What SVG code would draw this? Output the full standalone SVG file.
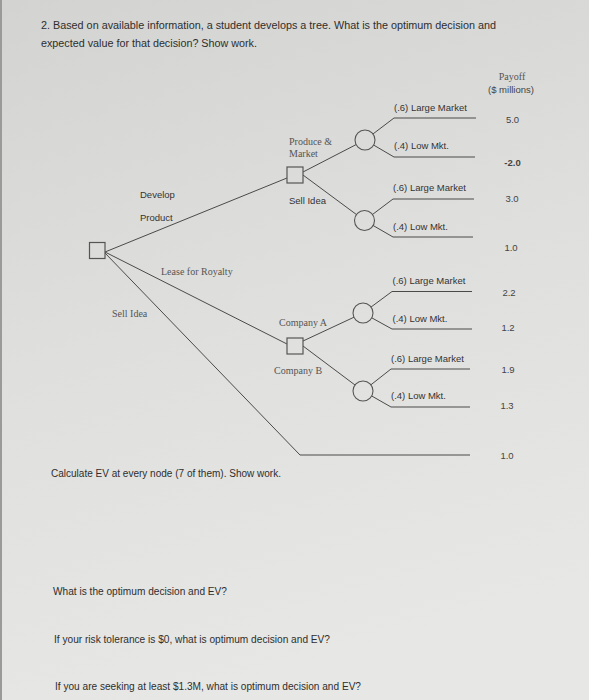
<svg xmlns="http://www.w3.org/2000/svg" width="589" height="700" viewBox="0 0 589 700">
<defs>
<linearGradient id="bg" gradientUnits="userSpaceOnUse" x1="0" y1="0" x2="200" y2="700">
<stop offset="0" stop-color="#d3d3d1"/>
<stop offset="0.5" stop-color="#dfdfdd"/>
<stop offset="1" stop-color="#e7e7e5"/>
</linearGradient>
<style>
.s{font-family:"Liberation Sans",Arial,sans-serif;fill:#333;font-size:9.5px}
.t{font-family:"Liberation Sans",Arial,sans-serif;fill:#2e2e2e;font-size:10px}
.r{font-family:"Liberation Serif","Times New Roman",serif;fill:#555;font-size:10px}
.p{font-family:"Liberation Sans",Arial,sans-serif;fill:#444;font-size:9.5px;text-anchor:middle}
.ln{stroke:#4a4a4a;stroke-width:1;fill:none}
.sq{stroke:#555;stroke-width:1.2;fill:url(#bg)}
.ci{stroke:#555;stroke-width:1.1;fill:url(#bg)}
</style>
</defs>
<rect x="0" y="0" width="589" height="700" fill="url(#bg)"/>
<rect x="0" y="0" width="2" height="700" fill="#9a9a98"/>

<g id="title">
<text class="t" x="41" y="28.5" textLength="455" lengthAdjust="spacingAndGlyphs">2. Based on available information, a student develops a tree. What is the optimum decision and</text>
<text class="t" x="41" y="46.5" textLength="216" lengthAdjust="spacingAndGlyphs">expected value for that decision? Show work.</text>
</g>

<g id="connectors">
<line class="ln" x1="105" y1="252" x2="287" y2="178"/>
<line class="ln" x1="105" y1="252" x2="287" y2="344"/>
<polyline class="ln" points="105,253 300,455 470,455"/>
<line class="ln" x1="303" y1="172" x2="365" y2="140"/>
<line class="ln" x1="303" y1="175" x2="364.5" y2="220.5"/>
<line class="ln" x1="303" y1="341" x2="363" y2="313"/>
<line class="ln" x1="303" y1="346" x2="363" y2="391"/>
<polyline class="ln" points="365,140 394,118 476,118"/>
<polyline class="ln" points="365,140 394,157 475,157"/>
<polyline class="ln" points="364.5,220.5 393,199 474,199"/>
<polyline class="ln" points="364.5,220.5 393,237 473,237"/>
<polyline class="ln" points="363,313 392,291.5 472,291.5"/>
<polyline class="ln" points="363,313 392,329 472,329"/>
<polyline class="ln" points="363,391 391,369 470,369"/>
<polyline class="ln" points="363,391 391,407 470,407"/>
</g>

<g id="root">
<rect class="sq" x="89.5" y="242.5" width="15.5" height="16"/>
</g>
<g id="produce-decision">
<rect class="sq" x="287" y="167" width="16" height="16"/>
</g>
<g id="company-decision">
<rect class="sq" x="287" y="338" width="16" height="16"/>
</g>
<g id="chance-produce">
<circle class="ci" cx="365" cy="140" r="10"/>
</g>
<g id="chance-sell">
<circle class="ci" cx="364.5" cy="220.5" r="10"/>
</g>
<g id="chance-company-a">
<circle class="ci" cx="363" cy="313" r="10"/>
</g>
<g id="chance-company-b">
<circle class="ci" cx="363" cy="391" r="10"/>
</g>

<g id="branch-labels">
<text class="s" x="140" y="198">Develop</text>
<text class="s" x="140" y="221">Product</text>
<text class="r" x="289" y="145">Produce &amp;</text>
<text class="r" x="289" y="157">Market</text>
<text class="s" x="289" y="204">Sell Idea</text>
<text class="r" x="161" y="275" font-size="10.5">Lease for Royalty</text>
<text class="r" x="112" y="317">Sell Idea</text>
<text class="r" x="279" y="326">Company A</text>
<text class="r" x="274" y="374">Company B</text>
<text class="s" x="394" y="111">(.6) Large Market</text>
<text class="s" x="394" y="149">(.4) Low Mkt.</text>
<text class="s" x="393" y="191">(.6) Large Market</text>
<text class="s" x="393" y="230">(.4) Low Mkt.</text>
<text class="s" x="392.5" y="284">(.6) Large Market</text>
<text class="s" x="392.5" y="322">(.4) Low Mkt.</text>
<text class="s" x="391" y="362">(.6) Large Market</text>
<text class="s" x="391" y="399">(.4) Low Mkt.</text>
</g>

<g id="payoffs">
<text class="r" x="512" y="80" text-anchor="middle" font-size="10.5">Payoff</text>
<text class="p" x="511" y="92.5">($ millions)</text>
<text class="p" x="512.5" y="122.5">5.0</text>
<text class="p" x="512.5" y="165.5" font-weight="bold">-2.0</text>
<text class="p" x="512" y="201.5">3.0</text>
<text class="p" x="511" y="250.5">1.0</text>
<text class="p" x="509" y="295.5">2.2</text>
<text class="p" x="508" y="330.5">1.2</text>
<text class="p" x="508" y="372.5">1.9</text>
<text class="p" x="507" y="408.5">1.3</text>
<text class="p" x="507" y="458.5">1.0</text>
</g>

<g id="questions">
<text class="t" x="51" y="477" textLength="230" lengthAdjust="spacingAndGlyphs">Calculate EV at every node (7 of them). Show work.</text>
<text class="t" x="53" y="595" textLength="174" lengthAdjust="spacingAndGlyphs">What is the optimum decision and EV?</text>
<text class="t" x="54" y="643" textLength="276" lengthAdjust="spacingAndGlyphs">If your risk tolerance is $0, what is optimum decision and EV?</text>
<text class="t" x="55" y="690" textLength="306" lengthAdjust="spacingAndGlyphs">If you are seeking at least $1.3M, what is optimum decision and EV?</text>
</g>
</svg>
